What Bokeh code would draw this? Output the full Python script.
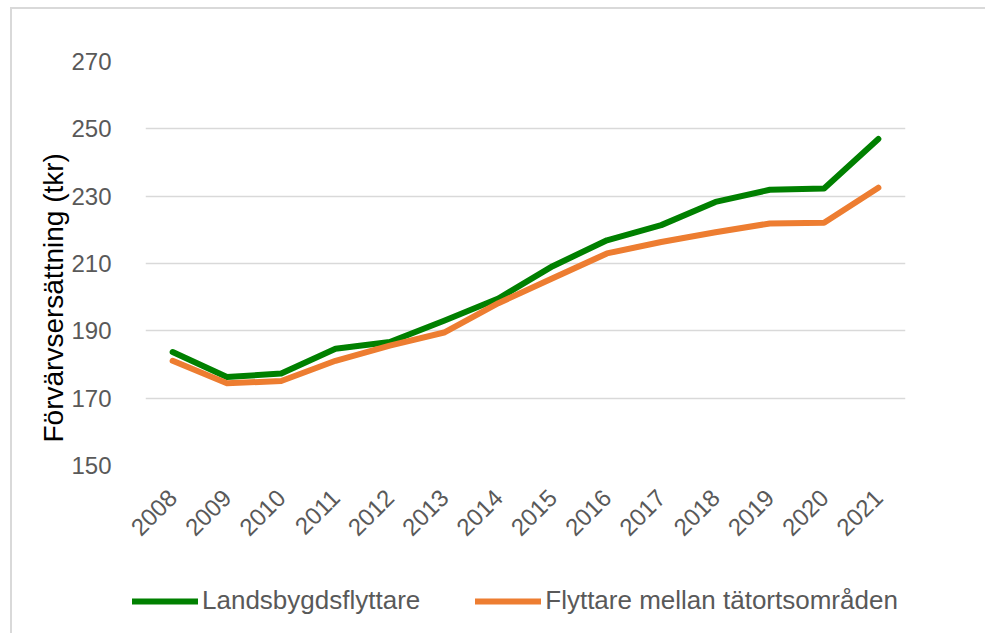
from bokeh.plotting import figure
from bokeh.models import Range1d, FixedTicker, Legend, LegendItem, Title
from bokeh.embed import file_html
from bokeh.resources import INLINE
import math

years = ["2008", "2009", "2010", "2011", "2012", "2013", "2014",
         "2015", "2016", "2017", "2018", "2019", "2020", "2021"]
landsbygd = [183.7, 176.3, 177.3, 184.7, 186.7, 193.0, 199.6,
             209.2, 216.9, 221.4, 228.3, 231.9, 232.3, 247.0]
tatort = [181.1, 174.4, 175.1, 181.1, 185.6, 189.5, 198.2,
          205.6, 213.0, 216.4, 219.3, 221.9, 222.1, 232.5]
y_ticks = [150, 170, 190, 210, 230, 250, 270]
series_names = ["Landsbygdsflyttare", "Flyttare mellan tätortsområden"]
y_title = "Förvärvsersättning (tkr)"

FONT = "Liberation Sans"
GRID = "#d9d9d9"
TXT = "#595959"
GREEN = "#008000"
ORANGE = "#ED7D31"
BORDER = {"margin-left": "10px", "border-left": "2px solid #d9d9d9"}

p = figure(width=975, height=566, x_range=years, y_range=Range1d(150, 270),
           output_backend="svg", toolbar_location=None,
           min_border_left=133, min_border_right=82,
           min_border_top=52, min_border_bottom=110)
p.styles = dict(BORDER, **{"margin-top": "7px", "border-top": "2px solid #d9d9d9"})
p.outline_line_color = None
p.background_fill_color = "white"
p.border_fill_color = "white"

p.xgrid.grid_line_color = None
p.ygrid.grid_line_color = GRID
p.ygrid.grid_line_width = 1.5

p.yaxis.ticker = FixedTicker(ticks=y_ticks)
p.yaxis.axis_line_color = None
p.yaxis.major_tick_line_color = None
p.yaxis.minor_tick_line_color = None
p.yaxis.major_label_text_font = FONT
p.yaxis.major_label_text_font_size = "24px"
p.yaxis.major_label_text_color = TXT
p.yaxis.major_label_standoff = 28

p.add_layout(Title(text=y_title, align="left", offset=23, standoff=0,
                   text_font=FONT, text_font_size="28px", text_font_style="normal",
                   text_color="black"), "left")

p.xaxis.axis_line_color = None
p.xaxis.major_tick_line_color = None
p.xaxis.minor_tick_line_color = None
p.xaxis.major_label_orientation = math.pi / 4
p.xaxis.major_label_text_font = FONT
p.xaxis.major_label_text_font_size = "24px"
p.xaxis.major_label_text_color = TXT
p.xaxis.major_label_standoff = 22

p.line(years, landsbygd, line_color=GREEN, line_width=6, line_join="round", line_cap="round")
p.line(years, tatort, line_color=ORANGE, line_width=6, line_join="round", line_cap="round")

# legend strip (separate root so the legend is not clipped by the plot frame)
p2 = figure(width=975, height=60, x_range=Range1d(0, 1), y_range=Range1d(0, 1),
            output_backend="svg", toolbar_location=None,
            min_border_left=0, min_border_right=0, min_border_top=0, min_border_bottom=0)
p2.styles = dict(BORDER)
p2.axis.visible = False
p2.grid.grid_line_color = None
p2.outline_line_color = None
idx = list(range(len(years)))
l1 = p2.line(idx, landsbygd, line_color=GREEN, line_width=6, line_cap="round")
l2 = p2.line(idx, tatort, line_color=ORANGE, line_width=6, line_cap="round")
legend = Legend(items=[LegendItem(label=series_names[0], renderers=[l1]),
                       LegendItem(label=series_names[1], renderers=[l2])],
                orientation="horizontal", location=(120, 17),
                border_line_color=None, background_fill_alpha=0,
                label_text_font=FONT, label_text_font_size="26px",
                label_text_color=TXT, glyph_width=66, glyph_height=26,
                label_standoff=4, spacing=55, padding=0, margin=0)
p2.add_layout(legend, "center")

open("out.html", "w").write(file_html([p, p2], INLINE))
